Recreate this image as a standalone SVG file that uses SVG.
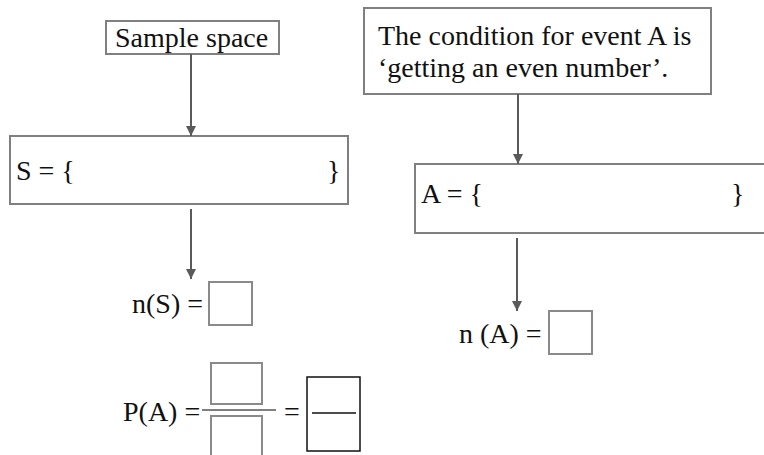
<svg xmlns="http://www.w3.org/2000/svg" width="764" height="455" viewBox="0 0 764 455">
<style>
.box{fill:#fff;stroke:#808080;stroke-width:2}
.blank{fill:#fff;stroke:#8a8a8a;stroke-width:2}
.t{font-family:"Liberation Serif","Times New Roman",serif;font-size:28px;fill:#111}
.con{stroke:#5a5a5a;stroke-width:2;fill:none}
</style>
<defs>
<marker id="ah" markerWidth="10" markerHeight="10" refX="10" refY="5" orient="auto" markerUnits="userSpaceOnUse">
<path d="M0,0 L10,5 L0,10 Z" fill="#5a5a5a"/>
</marker>
</defs>
<rect width="764" height="455" fill="#fff"/>
<g id="sample">
<rect class="box" x="106" y="21" width="173" height="33"/>
<text class="t" x="115" y="47">Sample space</text>
</g>
<g id="condition">
<rect class="box" x="364" y="8" width="347" height="86"/>
<text class="t" x="378" y="45">The condition for event A is</text>
<text class="t" x="378" y="77">‘getting an even number’.</text>
</g>
<g id="setS">
<rect class="box" x="10" y="136" width="338" height="68"/>
<text class="t" x="16" y="180">S = {</text>
<text class="t" x="327" y="180">}</text>
</g>
<g id="setA">
<rect class="box" x="415" y="164" width="360" height="69"/>
<text class="t" x="421" y="203">A = {</text>
<text class="t" x="731" y="203">}</text>
</g>
<g id="nS">
<text class="t" x="132" y="313">n(S) =</text>
<rect class="blank" x="209" y="282" width="43" height="43"/>
</g>
<g id="nA">
<text class="t" x="459" y="343">n (A) =</text>
<rect class="blank" x="549" y="311" width="43" height="43"/>
</g>
<g id="PA">
<text class="t" x="123" y="421">P(A) =</text>
<rect class="blank" x="211" y="363" width="51" height="41"/>
<line x1="202" y1="410" x2="276" y2="410" stroke="#808080" stroke-width="2"/>
<rect class="blank" x="211" y="416" width="51" height="45"/>
<text class="t" x="284" y="421">=</text>
<rect x="307" y="377" width="53" height="74" fill="#fff" stroke="#111" stroke-width="1.5"/>
<line x1="312" y1="413" x2="356" y2="413" stroke="#111" stroke-width="1.5"/>
</g>
<g id="connectors">
<line class="con" x1="191" y1="54" x2="191" y2="136" marker-end="url(#ah)"/>
<line class="con" x1="191" y1="209" x2="191" y2="279" marker-end="url(#ah)"/>
<line class="con" x1="518" y1="94" x2="518" y2="164" marker-end="url(#ah)"/>
<line class="con" x1="517" y1="238" x2="517" y2="311" marker-end="url(#ah)"/>
</g>
</svg>
